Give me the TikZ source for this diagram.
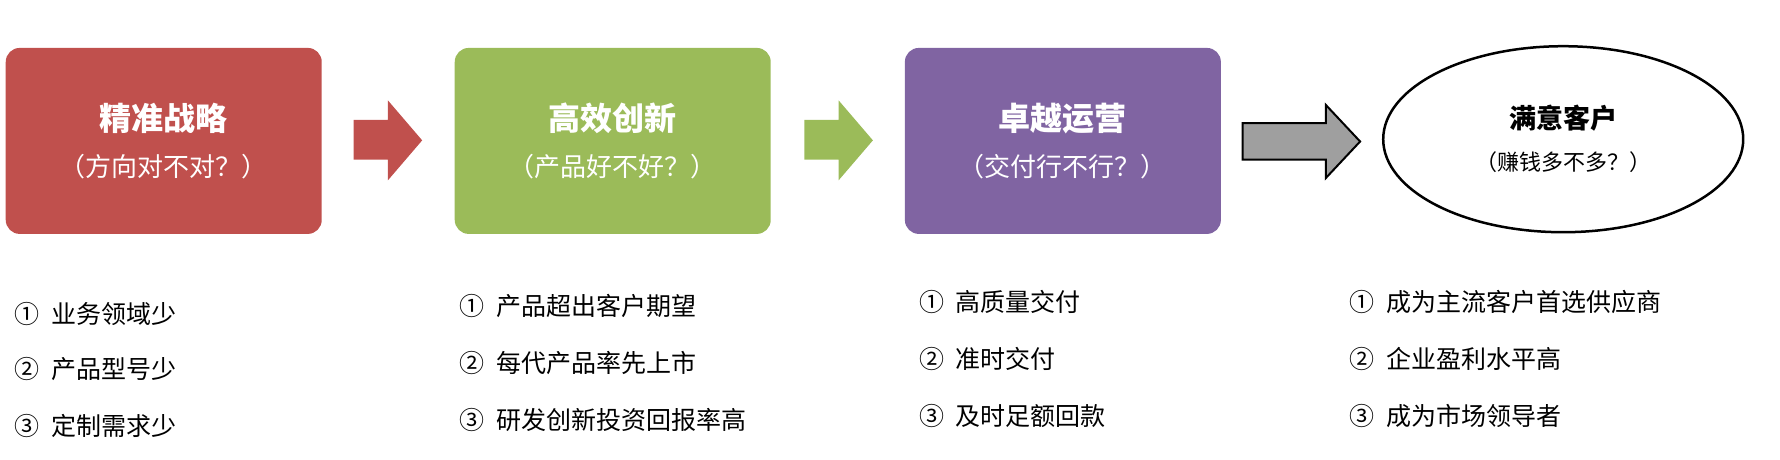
\documentclass[tikz,border=0pt]{standalone}
\usepackage{fontspec}
\setmainfont{Noto Sans CJK SC}
\usetikzlibrary{positioning,shapes.geometric}
\definecolor{stratred}{HTML}{C0504D}
\definecolor{innogreen}{HTML}{9BBB59}
\definecolor{operpurple}{HTML}{8064A2}
\tikzset{
  stage/.style={rounded corners=14pt, minimum width=316pt, minimum height=186pt, text=white, align=center, font=\fontsize{26}{46}\selectfont},
  item/.style={anchor=west, font=\fontsize{25}{30}\selectfont}
}
\begin{document}
\begin{tikzpicture}[x=1.141pt,y=-1.141pt]
  \useasboundingbox (0,0) rectangle (1560,403);
  \node[stage, fill=stratred] (s1) at (143.5,123.5) {\textbf{\fontsize{32}{40}\selectfont 精准战略}\\（方向对不对？）};
  \node[stage, fill=innogreen] (s2) at (537,123.5) {\textbf{\fontsize{32}{40}\selectfont 高效创新}\\（产品好不好？）};
  \node[stage, fill=operpurple] (s3) at (931.5,123.5) {\textbf{\fontsize{32}{40}\selectfont 卓越运营}\\（交付行不行？）};
  \node[draw, line width=2.5pt, ellipse, inner sep=0pt, minimum width=360pt, minimum height=186pt, align=center, font=\fontsize{22}{42}\selectfont] (s4) at (1370,122) {\textbf{\fontsize{27}{34}\selectfont 满意客户}\\（赚钱多不多？）};

  % arrows between stages
  \fill[stratred] (310,105) -- (340,105) -- (340,88) -- (370,123) -- (340,158) -- (340,140) -- (310,140) -- cycle;
  \fill[innogreen] (705,105) -- (735,105) -- (735,88) -- (765,123) -- (735,158) -- (735,140) -- (705,140) -- cycle;
  \draw[fill=gray!75, line width=2pt] (1089,108) -- (1162,108) -- (1162,92) -- (1192,124) -- (1162,156) -- (1162,140) -- (1089,140) -- cycle;

  \node[item] (a1) at (10,275) {①\ \ 业务领域少};
  \node[item] (a2) at (10,323) {②\ \ 产品型号少};
  \node[item] (a3) at (10,373) {③\ \ 定制需求少};
  \node[item] (b1) at (400,268) {①\ \ 产品超出客户期望};
  \node[item] (b2) at (400,318) {②\ \ 每代产品率先上市};
  \node[item] (b3) at (400,368) {③\ \ 研发创新投资回报率高};
  \node[item] (c1) at (803,265) {①\ \ 高质量交付};
  \node[item] (c2) at (803,315) {②\ \ 准时交付};
  \node[item] (c3) at (803,365) {③\ \ 及时足额回款};
  \node[item] (d1) at (1180,265) {①\ \ 成为主流客户首选供应商};
  \node[item] (d2) at (1180,315) {②\ \ 企业盈利水平高};
  \node[item] (d3) at (1180,365) {③\ \ 成为市场领导者};
\end{tikzpicture}
\end{document}
